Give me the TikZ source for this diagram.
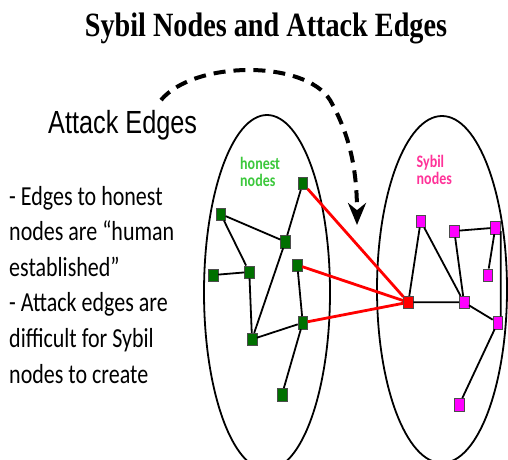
\documentclass[tikz,border=0pt]{standalone}
\usepackage{fontspec}
\usetikzlibrary{arrows.meta}
\newfontfamily\titlefont{Liberation Serif}[FakeStretch=0.83]
\newfontfamily\headfont{Liberation Sans}[FakeStretch=0.79]
\newfontfamily\bodyfont{Carlito}[FakeStretch=0.8]
\definecolor{hgreen}{RGB}{0,112,0}
\definecolor{sybilpink}{RGB}{255,0,255}
\definecolor{hlabel}{RGB}{60,200,60}
\definecolor{slabel}{RGB}{255,51,153}

\begin{document}
\begin{tikzpicture}[x=1pt,y=-1pt,
    hnode/.style={draw=black!70,fill=hgreen,minimum width=9.5pt,minimum height=12.5pt,inner sep=0pt},
    snode/.style={hnode,fill=sybilpink},
    anode/.style={hnode,fill=red},
    edge/.style={line width=1.8pt},
    attack/.style={line width=2.8pt,red}]
    \useasboundingbox (0,0) rectangle (508,459);

    \node[anchor=base,font=\titlefont\bfseries\fontsize{34}{40}\selectfont] (title) at (266,36.7) {Sybil Nodes and Attack Edges};
    \node[anchor=base west,inner sep=0pt,font=\headfont\fontsize{32}{38}\selectfont] (head) at (48,133) {Attack Edges};
    % base of a multi-line node sits on its last line
    \node[anchor=base west,inner sep=0pt,align=left,font=\bodyfont\fontsize{27.5}{35.6}\selectfont] (notes) at (9,383)
        {- Edges to honest\\nodes are “human\\established”\\- Attack edges are\\difficult for Sybil\\nodes to create};

    % the two regions
    \draw [line width=1.8pt] (267,292.4) ellipse [x radius=63, y radius=177.4];
    \draw [line width=1.8pt] (442,289.5) ellipse [x radius=65, y radius=173.5];
    \node[anchor=base west,inner sep=0pt,align=left,text=hlabel,font=\bodyfont\bfseries\fontsize{17.5}{16.8}\selectfont] (hlab) at (240,186) {honest\\nodes};
    \node[anchor=base west,inner sep=0pt,align=left,text=slabel,font=\bodyfont\bfseries\fontsize{17.5}{16.8}\selectfont] (slab) at (416.5,184) {Sybil\\nodes};

    \draw [line width=4pt,dash pattern=on 12pt off 8pt,-{Stealth[length=22pt,width=18pt]}]
        (161,100) .. controls (195,60) and (305,60) .. (330,100) .. controls (350,135) and (357,170) .. (357,225);

    % honest side
    \node[hnode] (h1) at (302.7,183.3) {};
    \node[hnode] (h2) at (220.7,214) {};
    \node[hnode] (h3) at (285.3,241.7) {};
    \node[hnode] (h4) at (213.3,275) {};
    \node[hnode] (h5) at (249.3,272) {};
    \node[hnode] (h6) at (297.3,265) {};
    \node[hnode] (h7) at (302.7,322.7) {};
    \node[hnode] (h8) at (252,339.3) {};
    \node[hnode] (h9) at (282,394.5) {};
    \draw [edge] (h1)--(h3) (h2)--(h3) (h2)--(h5) (h4)--(h5) (h5)--(h8) (h3)--(h8) (h8)--(h7) (h6)--(h7) (h7)--(h9);

    % sybil side
    \node[anode] (r) at (408.3,302.3) {};
    \node[snode] (s1) at (420.7,221) {};
    \node[snode] (s2) at (454.3,231) {};
    \node[snode] (s3) at (495.3,227.7) {};
    \node[snode] (s4) at (487.7,275) {};
    \node[snode] (s5) at (464,302.3) {};
    \node[snode] (s6) at (497.7,322.7) {};
    \node[snode] (s7) at (459.3,404.5) {};
    \coordinate (bend) at (500.7,232);
    \draw [edge] (r)--(s1) (s1)--(s5) (r)--(s5) (s2)--(s5) (s3)--(s4) (s5)--(s6) (s6)--(s7);
    \draw [edge] (s2)--(s3) (s3.east |- bend)--(bend)--(bend |- s6.north);

    \draw [attack] (h1)--(r) (h6)--(r) (h7)--(r);
\end{tikzpicture}
\end{document}
